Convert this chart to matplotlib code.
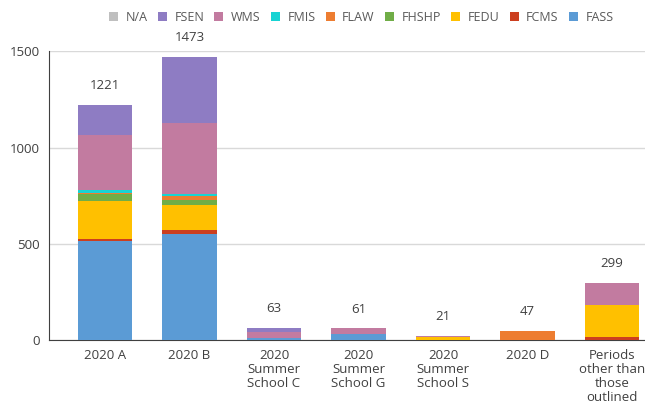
import numpy as np
import matplotlib.pyplot as plt

plt.rcParams['font.family'] = ['Open Sans', 'DejaVu Sans']

categories = ['2020 A', '2020 B', '2020\nSummer\nSchool C', '2020\nSummer\nSchool G',
              '2020\nSummer\nSchool S', '2020 D', 'Periods\nother than\nthose\noutlined']

# stacked from bottom to top
FASS = [515, 554, 13, 33, 1, 3, 0]
FCMS = [11, 17, 0, 0, 0, 0, 18]
FEDU = [195, 129, 0, 0, 15, 0, 166]
FHSHP = [40, 26, 0, 0, 0, 0, 0]
FLAW = [5, 25, 0, 0, 0, 44, 0]
FMIS = [12, 8, 0, 0, 0, 0, 0]
WMS = [287, 367, 32, 28, 5, 0, 115]
FSEN = [156, 347, 18, 0, 0, 0, 0]
NA = [0, 0, 0, 0, 0, 0, 0]
totals = [1221, 1473, 63, 61, 21, 47, 299]

series = [('FASS', FASS, '#5B9BD5'), ('FCMS', FCMS, '#CC3F1F'), ('FEDU', FEDU, '#FFC000'),
          ('FHSHP', FHSHP, '#70AD47'), ('FLAW', FLAW, '#ED7D31'), ('FMIS', FMIS, '#17D3D3'),
          ('WMS', WMS, '#C27BA0'), ('FSEN', FSEN, '#8E7CC3'), ('N/A', NA, '#BFBFBF')]

fig = plt.figure(figsize=(6.45, 4.05), dpi=100)
ax = fig.add_axes([0.076, 0.16, 0.924, 0.713])

x = np.arange(len(categories))
bottom = np.zeros(len(categories))
handles = []
for name, vals, col in series:
    b = ax.bar(x, vals, 0.646, bottom=bottom, color=col, label=name, zorder=3)
    bottom += np.array(vals)
    handles.append(b)

for xi, t in zip(x, totals):
    ax.annotate(str(t), (xi, t), xytext=(0, 14), textcoords='offset points',
                ha='center', va='center', fontsize=9.5, color='#404040')

ax.set_xlim(-0.663, 6.39)
ax.set_ylim(0, 1500)
ax.set_yticks([0, 500, 1000, 1500])
ax.set_xticks(x)
ax.set_xticklabels(categories, fontsize=9.5, color='#404040', linespacing=1.12)
ax.tick_params(axis='y', labelsize=9.5, colors='#404040', length=0, pad=6.5)
ax.tick_params(axis='x', length=0, pad=6)
ax.grid(axis='y', color='#D9D9D9', linewidth=1, zorder=0)
for s in ['top', 'right']:
    ax.spines[s].set_visible(False)
ax.spines['left'].set_color('#404040')
ax.spines['bottom'].set_color('#404040')

fig.legend(handles[::-1], [s[0] for s in series][::-1], loc='center right',
           bbox_to_anchor=(0.951, 0.958), ncol=9, frameon=False, fontsize=9,
           borderpad=0, borderaxespad=0,
           handlelength=0.72, handleheight=0.72, handletextpad=0.6, columnspacing=0.82,
           labelcolor='#595959')

fig.savefig('out.png', dpi=100)
